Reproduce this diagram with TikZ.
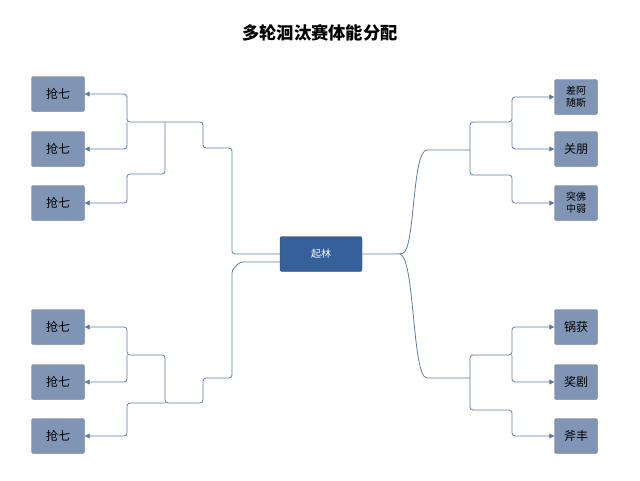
\documentclass[tikz,border=0pt]{standalone}
\usepackage{fontspec}
\newfontfamily\cjk{Noto Sans CJK SC}
\usetikzlibrary{arrows.meta}
\definecolor{leafc}{HTML}{8095B5}
\definecolor{rootc}{HTML}{36609A}
\definecolor{linec}{HTML}{5D7CA3}
\begin{document}
\begin{tikzpicture}[x=1pt,y=-1pt,
  leaf/.style={draw=leafc!80!black,fill=leafc,rounded corners=2pt,minimum width=53pt,minimum height=35pt,font=\cjk\large,align=center,inner sep=1pt,text=black},
  root/.style={draw=rootc!80!black,fill=rootc,rounded corners=2pt,minimum width=82pt,minimum height=35pt,font=\cjk\normalsize,text=white},
  wire/.style={draw=linec,line width=0.8pt,rounded corners=3pt},
  arr/.style={wire,-{Triangle[length=5pt,width=5pt]}}]
  \useasboundingbox (0,0) rectangle (640,480);
  %title
  \node[font=\cjk\bfseries\LARGE] (title) at (320,33) {多轮洄汰赛体能分配};
  %root
  \node[root] (root) at (321,254) {起林};
  %left leaves
  \node[leaf] (l1) at (58,94) {抢七};
  \node[leaf] (l2) at (58,149) {抢七};
  \node[leaf] (l3) at (58,203) {抢七};
  \node[leaf] (l4) at (58,327) {抢七};
  \node[leaf] (l5) at (58,382) {抢七};
  \node[leaf] (l6) at (58,436) {抢七};
  %right leaves
  \node[leaf,minimum width=43pt,font=\cjk\normalsize] (r1) at (576,97) {差阿\\随斯};
  \node[leaf,minimum width=43pt] (r2) at (576,149) {关朋};
  \node[leaf,minimum width=43pt,font=\cjk\normalsize] (r3) at (576,203) {突佛\\中弱};
  \node[leaf,minimum width=43pt] (r4) at (576,327) {锅获};
  \node[leaf,minimum width=43pt] (r5) at (576,382) {奖剧};
  \node[leaf,minimum width=43pt] (r6) at (576,436) {斧丰};
  %left top
  \coordinate (ja) at (127,122);
  \coordinate (jb) at (165,122);
  \coordinate (jc) at (203,122);
  \draw[arr] (root.west) -- (232,254) -- (232,148) -- (203,148) -- (jc) -- (ja) |- (l1.east);
  \draw[arr] (ja) |- (l2.east);
  \draw[arr] (jb) |- (127,174) |- (l3.east);
  %left bottom
  \coordinate (jd) at (127,355);
  \coordinate (je) at (165,403);
  \draw[arr] (root.west) ++(0,8) -- (240,262) -- (232,270) -- (232,378) -- (203,378) -- (203,403) -- (je) -- (165,355) -- (jd) |- (l4.east);
  \draw[arr] (jd) |- (l5.east);
  \draw[arr] (je) -- (127,403) |- (l6.east);
  %right top
  \coordinate (jf) at (470,150);
  \draw[wire] (root.east) -- (400,254) .. controls (415,250) and (412,150) .. (430,150) -- (jf);
  \draw[arr] (jf) |- (512,122) |- (r1.west);
  \draw[arr] (512,122) |- (r2.west);
  \draw[arr] (jf) |- (512,175) |- (r3.west);
  %right bottom
  \coordinate (jg) at (470,378);
  \draw[wire] (400,254) .. controls (415,258) and (412,378) .. (430,378) -- (jg);
  \draw[arr] (jg) |- (512,355) |- (r4.west);
  \draw[arr] (512,355) |- (r5.west);
  \draw[arr] (jg) |- (512,410) |- (r6.west);
\end{tikzpicture}
\end{document}
